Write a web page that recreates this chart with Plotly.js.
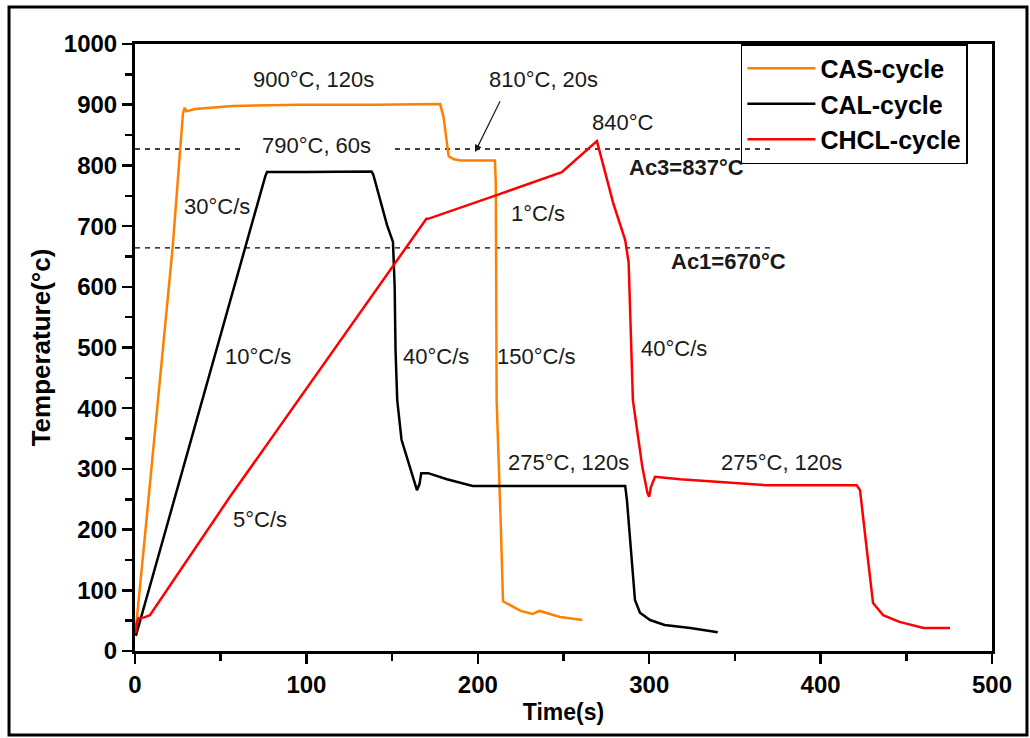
<!DOCTYPE html>
<html>
<head>
<meta charset="utf-8">
<script src="https://cdn.plot.ly/plotly-3.0.1.min.js"></script>
<style>html,body{margin:0;padding:0;background:#fff;}#chart{width:1030px;height:738px;}</style>
</head>
<body>
<div id="chart"></div>
<script>
// CAS-cycle (orange)
const casTime = [0.5, 1, 5, 22, 28, 29, 30, 35, 57, 96, 140, 178, 180, 182, 183, 186, 190, 210, 210.5, 211, 212.5, 213.5, 214.7, 225, 232, 236, 248, 261];
const casTemp = [40, 51, 166, 666, 886, 895, 889, 893, 898, 900, 900, 901, 880, 830, 815, 810, 808, 808, 771, 413, 300, 200, 82, 66, 61, 66, 56, 51];
// CAL-cycle (black)
const calTime = [0.5, 1, 4.7, 14.6, 76, 77, 100, 138, 139, 143, 147, 150.5, 151.5, 152, 153, 155.5, 159, 163, 164.5, 166, 167, 171, 182, 197, 286, 287, 289, 290.5, 291.7, 294.6, 300.5, 309, 324, 340];
const calTemp = [25, 30, 64, 166, 782, 789, 789, 790, 785, 743, 702, 674, 600, 496, 413, 348, 315, 277, 265, 275, 293, 293, 283, 272, 272, 249, 183, 133, 84, 63, 51, 43, 38, 31];
// CHCL-cycle (red)
const chclTime = [0.5, 1, 2, 5, 8.7, 55.4, 170, 171, 211, 249, 269.5, 279, 286, 288, 290.5, 296, 299, 300, 301, 303.4, 318, 368.6, 421, 423, 427, 430.6, 436.5, 446, 460, 475.5];
const chclTemp = [30, 45, 54, 55, 59, 254, 712, 712, 751, 789, 840, 738, 677, 640, 413, 303, 260, 254, 270, 287, 283, 273, 273, 265, 166, 79, 59, 48, 38, 38];
// Critical temperatures (reference lines)
const ac3Level = 827;
const ac1Level = 664;
const seriesNames = ['CAS-cycle', 'CAL-cycle', 'CHCL-cycle'];
const xTicks = [0, 100, 200, 300, 400, 500];
const yTicks = [0, 100, 200, 300, 400, 500, 600, 700, 800, 900, 1000];

const lineW = 2.5;
const traces = [
  {x: casTime, y: casTemp, name: seriesNames[0], mode: 'lines', line: {color: '#FF8000', width: lineW}},
  {x: calTime, y: calTemp, name: seriesNames[1], mode: 'lines', line: {color: '#000000', width: lineW}},
  {x: chclTime, y: chclTemp, name: seriesNames[2], mode: 'lines', line: {color: '#FF0000', width: lineW}}
];

const FONT = 'Liberation Sans, Arial, sans-serif';
const annFont = {family: FONT, size: 22, color: '#1a1a1a'};
const annBold = {family: FONT, size: 22, color: '#1a1a1a', weight: 'bold'};
function ann(x, y, text, font) {
  return {x: x, y: y, xref: 'x', yref: 'y', text: text, showarrow: false, font: font || annFont, xanchor: 'center', yanchor: 'middle'};
}
const annotations = [
  ann(104.4, 941, '900°C, 120s'),
  ann(105.6, 832, '790°C, 60s'),
  ann(238.6, 941, '810°C, 20s'),
  ann(284.7, 870, '840°C'),
  ann(322, 796, 'Ac3=837°C', annBold),
  ann(235.1, 720, '1°C/s'),
  ann(346, 641, 'Ac1=670°C', annBold),
  ann(47.8, 733, '30°C/s'),
  ann(71.8, 486, '10°C/s'),
  ann(175.6, 486, '40°C/s'),
  ann(234.5, 486, '150°C/s'),
  ann(314.5, 499, '40°C/s'),
  ann(253.2, 310, '275°C, 120s'),
  ann(376.9, 311, '275°C, 120s'),
  ann(72.9, 216, '5°C/s'),
  {x: 198.4, y: 822, xref: 'x', yref: 'y', text: ' ', showarrow: true, ax: 28, ay: -57,
   arrowhead: 2, arrowsize: 1.2, arrowwidth: 1.2, arrowcolor: '#1a1a1a', standoff: 0, startstandoff: 0}
];

const dashStyle = {color: '#000', width: 1.3, dash: '5px,5px'};
const shapes = [
  {type: 'line', xref: 'x', yref: 'y', x0: 0, x1: 63, y0: ac3Level, y1: ac3Level, line: dashStyle, layer: 'below'},
  {type: 'line', xref: 'x', yref: 'y', x0: 151.7, x1: 372, y0: ac3Level, y1: ac3Level, line: dashStyle, layer: 'below'},
  {type: 'line', xref: 'x', yref: 'y', x0: 0, x1: 372, y0: ac1Level, y1: ac1Level, line: dashStyle, layer: 'below'},
  {type: 'rect', xref: 'paper', yref: 'paper', x0: -0.147, x1: 1.0408, y0: -0.1384, y1: 1.061, line: {color: '#000', width: 3}, fillcolor: 'rgba(0,0,0,0)'}
];

const tickFont = {family: FONT, size: 24, color: '#000', weight: 'bold'};
const layout = {
  width: 1030, height: 738,
  margin: {l: 135, r: 38, t: 44, b: 87},
  paper_bgcolor: '#fff', plot_bgcolor: '#fff',
  showlegend: true,
  legend: {x: 0.707, y: 1, xanchor: 'left', yanchor: 'top', bgcolor: 'rgba(255,255,255,0)', bordercolor: '#000', borderwidth: 1.5,
           font: {family: FONT, size: 25, color: '#000', weight: 'bold'}, tracegroupgap: 0, itemwidth: 68},
  xaxis: {
    range: [0, 500], tickvals: xTicks, ticktext: xTicks.map(String),
    showgrid: false, zeroline: false, showline: true, linecolor: '#000', linewidth: 3, mirror: true,
    ticks: 'outside', ticklen: 10, tickwidth: 2.5, tickcolor: '#000', tickfont: tickFont,
    minor: {dtick: 50, tick0: 0, ticks: 'outside', ticklen: 7, tickwidth: 2.5, tickcolor: '#000', showgrid: false},
    title: {text: 'Time(s)', font: {family: FONT, size: 23, color: '#000', weight: 'bold'}, standoff: 8}
  },
  yaxis: {
    range: [0, 1000], tickvals: yTicks, ticktext: yTicks.map(String),
    showgrid: false, zeroline: false, showline: true, linecolor: '#000', linewidth: 3, mirror: true,
    ticks: 'outside', ticklen: 10, tickwidth: 2.5, tickcolor: '#000', tickfont: tickFont,
    minor: {dtick: 50, tick0: 0, ticks: 'outside', ticklen: 7, tickwidth: 2.5, tickcolor: '#000', showgrid: false},
    title: {text: 'Temperature(°c)', font: {family: FONT, size: 26, color: '#000', weight: 'bold'}, standoff: 6}
  },
  annotations: annotations,
  shapes: shapes
};

Plotly.newPlot('chart', traces, layout, {staticPlot: true, displayModeBar: false});
</script>
</body>
</html>
